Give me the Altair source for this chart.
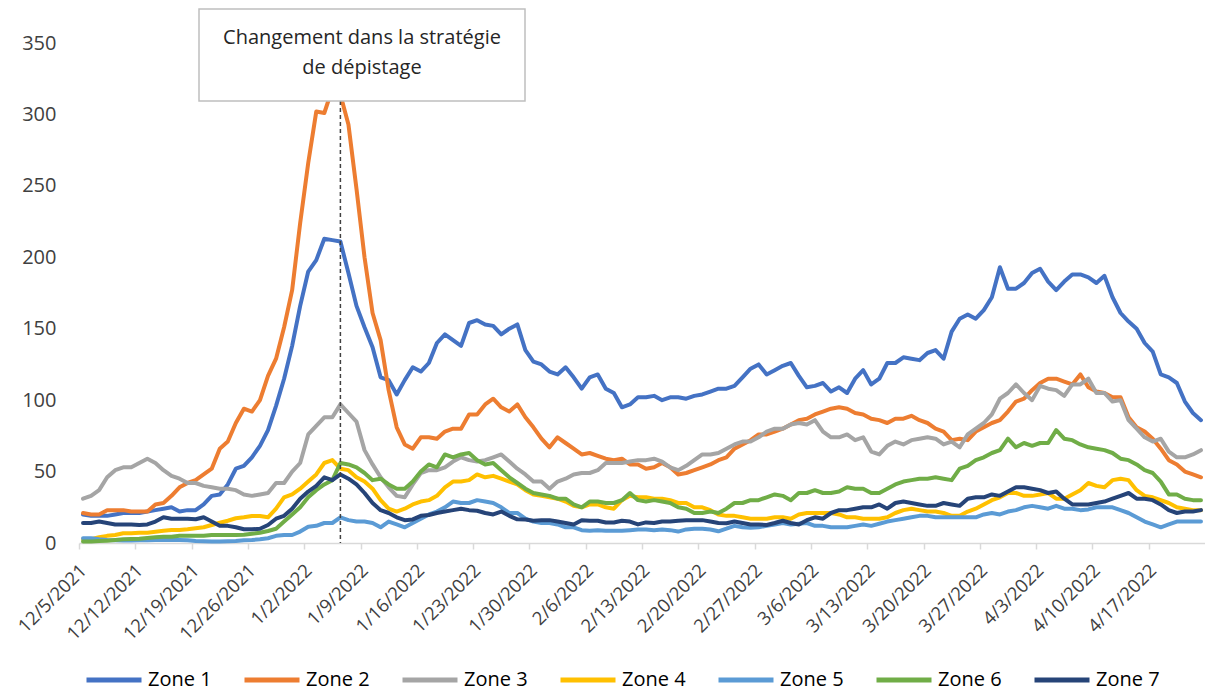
import json
import altair as alt
import pandas as pd

# ---------------- data ----------------
dates = pd.date_range("2021-12-05", "2022-04-23", freq="D")  # 140 daily categories

tick_labels = ["12/5/2021", "12/12/2021", "12/19/2021", "12/26/2021", "1/2/2022",
               "1/9/2022", "1/16/2022", "1/23/2022", "1/30/2022", "2/6/2022",
               "2/13/2022", "2/20/2022", "2/27/2022", "3/6/2022", "3/13/2022",
               "3/20/2022", "3/27/2022", "4/3/2022", "4/10/2022", "4/17/2022"]

zone1 = [20, 19, 19, 19, 20, 21, 21, 21, 22, 23, 24, 25, 22, 23, 23, 27, 33, 34, 41, 52,
         54, 60, 68, 79, 96, 115, 138, 166, 190, 198, 213, 212, 211, 189, 166,
         151, 137, 116, 114, 104, 114, 123, 120, 126, 140, 146, 142, 138, 154, 156,
         153, 152, 146, 150, 153, 135, 127, 125, 120, 118, 123, 116, 108, 116, 118,
         108, 105, 95, 97, 102, 102,
         103, 100, 102, 102, 101, 103, 104, 106, 108, 108, 110, 116, 122, 125, 118,
         121, 124, 126, 117, 109, 110, 112, 106, 109, 105, 115, 121, 111, 115, 126,
         126, 130, 129, 128, 133,
         135, 129, 148, 157, 160, 157, 163, 172, 193, 178, 178, 182, 189, 192, 183,
         177, 183, 188, 188, 186, 182, 187, 172, 161, 155, 150, 140, 134, 118, 116,
         112, 99, 91, 86]

zone2 = [21, 20, 20, 23, 23, 23, 22, 22, 22, 27, 28, 33, 39, 42, 44, 48, 52, 66, 71, 84,
         94, 92, 100, 117, 129, 151, 177, 224, 266, 302, 301, 318, 314, 293, 248,
         200, 161, 142, 107, 81, 69, 66, 74, 74, 73, 78, 80, 80, 90, 90,
         97, 101, 95, 92, 97, 88, 81, 73, 67, 74, 70, 66, 62, 63, 61,
         59, 58, 59, 55, 55, 52,
         53, 56, 53, 48, 49, 51, 53, 55, 58, 60, 66, 69, 72, 76, 76,
         78, 80, 83, 86, 87, 90, 92, 94, 95, 94, 91, 90, 87, 86, 84,
         87, 87, 89, 86, 84,
         80, 78, 72, 73, 72, 78, 81, 84, 86, 92, 99, 101, 107, 112, 115,
         115, 113, 111, 118, 109, 106, 105, 102, 102, 88, 81, 78, 73, 66, 58,
         55, 50, 48, 46]

zone3 = [31, 33, 37, 46, 51, 53, 53, 56, 59, 56, 51, 47, 45, 42, 42, 40, 39, 38, 38, 37,
         34, 33, 34, 35, 42, 42, 50, 56, 76, 82, 88, 88, 97, 91, 85,
         65, 55, 46, 39, 33, 32, 41, 49, 51, 51, 53, 57, 60, 58, 57,
         58, 60, 62, 57, 52, 48, 43, 43, 38, 43, 45, 48, 49, 49, 51,
         56, 56, 56, 57, 58, 58,
         59, 57, 53, 51, 54, 58, 62, 62, 63, 66, 69, 71, 71, 74, 78,
         80, 80, 83, 84, 83, 86, 78, 74, 74, 76, 72, 74, 64, 62, 68,
         71, 69, 72, 73, 74,
         73, 69, 71, 67, 76, 80, 84, 90, 101, 105, 111, 105, 100, 110, 108,
         107, 103, 111, 111, 115, 105, 105, 99, 100, 86, 80, 74, 71, 73, 64,
         60, 60, 62, 65]

zone4 = [2.6, 2.6, 4, 5, 5.6, 6.8, 6.8, 7.2, 7.2, 7.9, 8.6, 9.1, 9.1, 9.6, 10.3, 11, 12.6,
         14.2, 15.6, 17.3, 18, 18.9, 18.9, 18, 24, 32, 34, 38, 43, 48, 56, 58, 52, 51, 46,
         43, 38, 30, 24, 22, 24, 27, 29, 30, 33, 39, 43, 43, 44, 48,
         46, 47, 45, 43, 41, 37, 34, 33, 32, 31, 29, 26, 25, 27, 27,
         25, 24, 30, 33, 32, 32,
         31, 31, 30, 28, 28, 25, 25, 23, 20, 19, 19, 18, 17, 17, 17,
         18, 18, 17, 20, 21, 21, 21, 21, 20, 18, 18, 17, 17, 17, 18,
         21, 23, 24, 23, 22,
         22, 21, 19, 19, 22, 24, 27, 30, 32, 35, 35, 33, 33, 34, 35,
         31, 31, 34, 37, 42, 40, 39, 44, 45, 44, 37, 33, 32, 30, 28,
         25, 24, 23, 23]

zone5 = [3.3, 3.3, 2.6, 2.1, 1.9, 1.8, 1.7, 1.9, 1.9, 2.1, 2.1, 2.1, 2.1, 1.9, 1.4, 1.2,
         1, 1, 1.2, 1.4, 1.9, 2.1, 2.6, 3.3, 5, 5.6, 5.6, 8, 11.4, 12, 14, 14, 18, 16, 15,
         15, 14, 11, 15, 13, 11, 14, 17, 20, 22, 25, 29, 28, 28, 30,
         29, 28, 25, 21, 21, 17, 15, 14, 14, 13, 11, 11, 9, 8.5, 9,
         8.5, 8.5, 8.5, 9, 9.5, 9.5,
         9, 9.5, 9, 8, 9.5, 10, 10, 9.5, 8.2, 10, 12, 11, 10.7, 11, 12,
         13, 14, 13, 13.5, 14, 12, 12, 11, 11, 11, 12, 13, 12, 13.5, 15,
         16, 17, 18, 19, 19,
         18, 18, 18, 18, 18, 18, 20, 21, 20, 22, 23, 25, 26, 25, 24,
         26, 24, 24, 23, 23.5, 25, 25, 25, 23, 21, 18, 15, 13, 11, 13,
         15, 15, 15, 15]

zone6 = [1, 1, 1.4, 1.6, 2.1, 2.6, 2.8, 3, 3.5, 4, 4.4, 4.4, 5, 5, 5, 5, 5.6, 5.6, 5.6,
         5.6, 5.8, 6.5, 7.2, 8.4, 10, 15, 20, 25, 32, 37, 41, 44, 56, 55, 53,
         49, 44, 45, 41, 38, 38, 43, 50, 55, 53, 62, 60, 62, 63, 58,
         55, 56, 51, 46, 42, 38, 35, 34, 33, 31, 31, 27, 25, 29, 29,
         28, 28, 30, 35, 30, 29,
         30, 29, 28, 25, 24, 21, 21, 22, 21, 24, 28, 28, 30, 30, 32,
         34, 33, 30, 35, 35, 37, 35, 35, 36, 39, 38, 38, 35, 35, 38,
         41, 43, 44, 45, 45,
         46, 45, 44, 52, 54, 58, 60, 63, 65, 73, 67, 70, 68, 70, 70,
         79, 73, 72, 69, 67, 66, 65, 63, 59, 58, 55, 51, 49, 43, 34,
         34, 31, 30, 30]

zone7 = [14, 14, 15, 14, 13, 13, 13, 12.6, 13, 15, 18, 17, 17, 17, 16.6, 18, 15, 12, 12,
         11, 9.6, 9.6, 10, 12.6, 17, 19, 24, 31, 36, 40, 46, 44, 48, 45, 41,
         35, 28, 23, 21, 18, 16, 16.5, 19, 19.6, 21, 22, 23, 24, 23, 22.6,
         21, 20, 22, 19, 16.6, 16.5, 15.6, 16, 16, 15, 14, 13, 16, 15.6, 15.6,
         14.4, 14.4, 15.6, 15, 13, 14.4,
         14, 15, 15, 15.6, 16, 16, 16, 15, 14, 13.8, 15, 14, 13, 13, 12.6,
         14, 15.6, 14, 13, 16, 18, 17, 21, 23, 23, 24, 25, 25, 27, 24,
         28, 29, 28, 27, 26,
         26, 28, 27, 26, 31, 32, 32, 34, 33, 36, 39, 39, 38, 37, 35,
         36, 31, 27, 27, 27, 28, 29, 31, 33, 35, 31, 31, 30, 27, 23,
         21, 22, 22, 23]

zone_names = ["Zone 1", "Zone 2", "Zone 3", "Zone 4", "Zone 5", "Zone 6", "Zone 7"]
zone_colors = ["#4472C4", "#ED7D31", "#A5A5A5", "#FFC000", "#5B9BD5", "#70AD47", "#264478"]
series = [zone1, zone2, zone3, zone4, zone5, zone6, zone7]

event_day = 32  # 1/6/2022 : changement dans la stratégie de dépistage
annotation_lines = ["Changement dans la stratégie", "de dépistage"]

# ---------------- tables ----------------
rows = []
for name, vals in zip(zone_names, series):
    for i, v in enumerate(vals):
        rows.append({"zone": name, "day": i + 0.5,
                     "date": f"{dates[i].month}/{dates[i].day}/{dates[i].year}",
                     "value": v})
df = pd.DataFrame(rows)
event_df = pd.DataFrame({"day": [event_day + 0.5]})
note_df = pd.DataFrame({"l1": [annotation_lines[0]], "l2": [annotation_lines[1]]})

FONT = "Open Sans"
n_days = len(dates)

x_scale = alt.Scale(domain=[0, n_days], nice=False, zero=False)
y_scale = alt.Scale(domain=[0, 350], nice=False)

label_expr = json.dumps(tick_labels) + "[round(datum.value / 7)]"

x_axis = alt.Axis(values=list(range(0, n_days, 7)), labelExpr=label_expr,
                  labelAngle=-45, labelAlign="right", labelBaseline="middle",
                  labelOffset=4, labelPadding=18, labelOverlap=False,
                  tickSize=6, tickColor="#d9d9d9", tickWidth=1.5,
                  domainColor="#d9d9d9", domainWidth=1.5, grid=False, title=None,
                  labelFont=FONT, labelFontSize=18.5, labelColor="#404040")
y_axis = alt.Axis(values=list(range(0, 351, 50)), grid=False, domain=False, ticks=False,
                  labelPadding=23, title=None, labelFont=FONT, labelFontSize=20,
                  labelColor="#404040")

lines = alt.Chart(df).mark_line(strokeWidth=4, strokeJoin="round", strokeCap="round").encode(
    x=alt.X("day:Q", scale=x_scale, axis=x_axis),
    y=alt.Y("value:Q", scale=y_scale, axis=y_axis),
    color=alt.Color("zone:N", scale=alt.Scale(domain=zone_names, range=zone_colors),
                    legend=alt.Legend(orient="none", legendX=5, legendY=607,
                                      direction="horizontal", title=None,
                                      symbolType="stroke", symbolStrokeWidth=5,
                                      symbolSize=3025, labelFont=FONT, labelFontSize=20,
                                      labelColor="#000000", labelOffset=4,
                                      columnPadding=22, padding=0)),
    detail="zone:N",
)

rule = alt.Chart(event_df).mark_rule(color="#404040", strokeWidth=1.5,
                                     strokeDash=[4, 3]).encode(
    x=alt.X("day:Q", scale=x_scale),
    y=alt.value(58),
    y2=alt.value(500),
)

box = alt.Chart(note_df).mark_rect(fill="white", stroke="#bfbfbf", strokeWidth=1.5).encode(
    x=alt.value(120), x2=alt.value(446), y=alt.value(-34), y2=alt.value(58)
)
txt1 = alt.Chart(note_df).mark_text(font=FONT, fontSize=20, color="#262626",
                                    align="center", baseline="middle").encode(
    x=alt.value(283), y=alt.value(-5), text="l1:N")
txt2 = alt.Chart(note_df).mark_text(font=FONT, fontSize=20, color="#262626",
                                    align="center", baseline="middle").encode(
    x=alt.value(283), y=alt.value(25), text="l2:N")

chart = alt.layer(lines, rule, box, txt1, txt2).properties(
    width=1126, height=500,
    padding={"left": 71, "top": 35, "right": 0, "bottom": 150},
    autosize=alt.AutoSizeParams(type="none"),
    background="white",
).configure_view(stroke=None)

chart.save("out.html", embed_options={"renderer": "svg", "actions": False})
